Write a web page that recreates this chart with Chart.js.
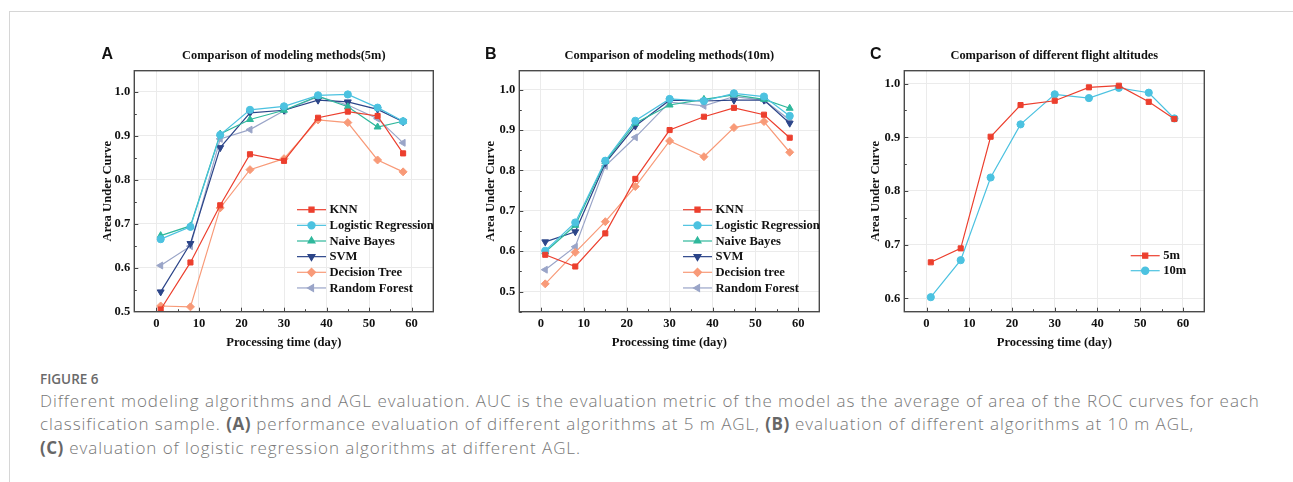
<!DOCTYPE html>
<html>
<head>
<meta charset="utf-8">
<script src="https://cdn.jsdelivr.net/npm/chart.js@4.4.1/dist/chart.umd.min.js"></script>
<style>
  html, body { margin: 0; padding: 0; background: #fff; }
  body { width: 1293px; height: 482px; position: relative; overflow: hidden; }
  #frame { position: absolute; left: 9px; top: 11px; right: -2px; bottom: -2px;
           border-top: 1px solid #d6d6d6; border-left: 1px solid #d6d6d6; }
  canvas { position: absolute; top: 40px; }
  #chartA { left: 90px; }
  #chartB { left: 470px; }
  #chartC { left: 860px; }
  .fig { position: absolute; left: 40px; top: 370px; font: 600 13.5px "Open Sans", sans-serif; color: #6a6a6a; }
  .cap { position: absolute; left: 40px; top: 389px; font: 300 17px/23.3px "Open Sans", sans-serif;
         letter-spacing: 0.95px; color: #777; white-space: nowrap; }
  .cap b { color: #666; font-weight: 700; letter-spacing: 0.5px; }
</style>
</head>
<body>
<div id="frame"></div>
<canvas id="chartA" width="360" height="320"></canvas>
<canvas id="chartB" width="360" height="320"></canvas>
<canvas id="chartC" width="360" height="320"></canvas>
<div class="fig">FIGURE 6</div>
<div class="cap">Different modeling algorithms and AGL evaluation. AUC is the evaluation metric of the model as the average of area of the ROC curves for each<br>classification sample. <b>(A)</b> performance evaluation of different algorithms at 5 m AGL, <b>(B)</b> evaluation of different algorithms at 10 m AGL,<br><b>(C)</b> evaluation of logistic regression algorithms at different AGL.</div>
<script>
// processing time (day) of each measurement
const days = [1, 8, 15, 22, 30, 38, 45, 52, 58];
const xTicks = [0, 10, 20, 30, 40, 50, 60];
const yTicksA = [0.5, 0.6, 0.7, 0.8, 0.9, 1.0];
const yTicksB = [0.5, 0.6, 0.7, 0.8, 0.9, 1.0];
const yTicksC = [0.6, 0.7, 0.8, 0.9, 1.0];

const namesA = ["KNN", "Logistic Regression", "Naive Bayes", "SVM", "Decision Tree", "Random Forest"];
const namesB = ["KNN", "Logistic Regression", "Naive Bayes", "SVM", "Decision tree", "Random Forest"];
const namesC = ["5m", "10m"];

// AUC at 5 m AGL
const knn5 = [0.505, 0.612, 0.742, 0.858, 0.843, 0.941, 0.955, 0.945, 0.860];
const lr5 = [0.665, 0.693, 0.902, 0.959, 0.967, 0.992, 0.994, 0.964, 0.933];
const nb5 = [0.673, 0.695, 0.904, 0.937, 0.958, 0.990, 0.966, 0.920, 0.933];
const svm5 = [0.545, 0.655, 0.873, 0.952, 0.958, 0.981, 0.977, 0.960, 0.932];
const dt5 = [0.513, 0.511, 0.736, 0.823, 0.848, 0.936, 0.930, 0.845, 0.818];
const rf5 = [0.605, 0.649, 0.893, 0.914, 0.957, 0.989, 0.970, 0.939, 0.884];

// AUC at 10 m AGL
const knn10 = [0.591, 0.562, 0.644, 0.779, 0.900, 0.933, 0.955, 0.938, 0.881];
const lr10 = [0.601, 0.671, 0.824, 0.923, 0.977, 0.972, 0.991, 0.983, 0.935];
const nb10 = [0.598, 0.664, 0.822, 0.917, 0.962, 0.976, 0.987, 0.976, 0.954];
const svm10 = [0.623, 0.648, 0.818, 0.910, 0.974, 0.972, 0.974, 0.974, 0.917];
const dt10 = [0.519, 0.597, 0.673, 0.760, 0.873, 0.834, 0.906, 0.921, 0.845];
const rf10 = [0.554, 0.611, 0.811, 0.882, 0.969, 0.960, 0.983, 0.974, 0.925];

// logistic regression, two flight altitudes
const alt5 = [0.667, 0.693, 0.901, 0.960, 0.968, 0.993, 0.996, 0.966, 0.934];
const alt10 = [0.602, 0.671, 0.825, 0.924, 0.980, 0.973, 0.992, 0.983, 0.935];

// marker look per method
const styles = [
  { color: "#ec3f2e", pointStyle: "rect", rotation: 0, radius: 3.6 },
  { color: "#4cc2e0", pointStyle: "circle", rotation: 0, radius: 3.6 },
  { color: "#2fb89c", pointStyle: "triangle", rotation: 0, radius: 4 },
  { color: "#2c4589", pointStyle: "triangle", rotation: 180, radius: 4 },
  { color: "#f89a78", pointStyle: "rectRot", rotation: 0, radius: 4 },
  { color: "#9aa5c8", pointStyle: "triangle", rotation: -90, radius: 4 },
];

const serif = "'Liberation Serif', 'Times New Roman', serif";
const ink = "#111";
const fontSize = 12.6;

function toPoints(vals) {
  return days.map((d, i) => ({ x: d, y: vals[i] }));
}

function dataset(label, vals, st) {
  return {
    label: label,
    data: toPoints(vals),
    borderColor: st.color,
    backgroundColor: st.color,
    pointBackgroundColor: st.color,
    pointBorderColor: st.color,
    borderWidth: 1.2,
    pointRadius: st.radius,
    pointBorderWidth: 1,
    pointStyle: st.pointStyle,
    pointRotation: st.rotation,
    tension: 0,
  };
}

// title, panel letter, frame, inward ticks and the in-plot legend
const decor = {
  id: "decor",
  beforeDatasetsDraw(chart, args, o) {
    const ctx = chart.ctx;
    const a = chart.chartArea;
    const xs = chart.scales.x, ys = chart.scales.y;
    ctx.save();
    ctx.strokeStyle = "#444";
    ctx.lineWidth = 1;
    ctx.beginPath();
    for (let v = 0; v <= 60; v += 5) {
      const px = Math.round(xs.getPixelForValue(v)) + 0.5;
      const len = v % 10 === 0 ? 4 : 2.5;
      ctx.moveTo(px, a.bottom);
      ctx.lineTo(px, a.bottom - len);
    }
    for (let v = o.yMinor; v <= 1.0001; v += 0.05) {
      const py = Math.round(ys.getPixelForValue(v)) + 0.5;
      const major = Math.abs(v * 10 - Math.round(v * 10)) < 0.01;
      ctx.moveTo(a.left, py);
      ctx.lineTo(a.left + (major ? 4 : 2.5), py);
    }
    ctx.stroke();
    ctx.restore();
  },
  afterDraw(chart, args, o) {
    const ctx = chart.ctx;
    const a = chart.chartArea;
    ctx.save();
    ctx.strokeStyle = "#4a4a4a";
    ctx.lineWidth = 1.4;
    ctx.strokeRect(a.left, a.top, a.right - a.left, a.bottom - a.top);

    ctx.fillStyle = ink;
    ctx.textBaseline = "middle";
    ctx.textAlign = "center";
    ctx.font = "bold 12.4px " + serif;
    ctx.fillText(o.title, (a.left + a.right) / 2, 15.5);
    ctx.textAlign = "left";
    ctx.font = "bold 16px 'Liberation Sans', Arial, sans-serif";
    ctx.fillText(o.letter, o.letterX, 15);

    ctx.font = "bold " + fontSize + "px " + serif;
    chart.data.datasets.forEach((ds, i) => {
      const y = o.legY + i * o.legStep;
      const x0 = o.legX;
      ctx.strokeStyle = ds.borderColor;
      ctx.fillStyle = ds.borderColor;
      ctx.lineWidth = 1.2;
      ctx.beginPath();
      ctx.moveTo(x0, y);
      ctx.lineTo(x0 + 29, y);
      ctx.stroke();
      Chart.helpers.drawPoint(ctx, { pointStyle: ds.pointStyle, rotation: ds.pointRotation,
        radius: ds.pointRadius, borderWidth: 1 }, x0 + 14.5, y);
      ctx.fillStyle = ink;
      ctx.fillText(ds.label, x0 + 32.5, y + 0.5);
    });
    ctx.restore();
  },
};

function makePanel(id, sets, p) {
  const tickFont = { family: serif, weight: "bold", size: fontSize };
  return new Chart(document.getElementById(id), {
    type: "line",
    data: { datasets: sets },
    plugins: [decor],
    options: {
      responsive: false,
      animation: false,
      devicePixelRatio: 1,
      layout: { padding: { left: 0, top: 30.7, right: p.padRight, bottom: 0 } },
      plugins: {
        legend: { display: false },
        tooltip: { enabled: false },
        decor: p.decor,
      },
      scales: {
        x: {
          type: "linear",
          min: p.xMin, max: p.xMax,
          afterBuildTicks: (s) => { s.ticks = xTicks.map((v) => ({ value: v })); },
          afterFit: (s) => { s.height = 48.3; },
          grid: { color: "#ebebeb", drawTicks: false },
          border: { display: false },
          ticks: { padding: 4, color: ink, font: tickFont },
          title: { display: true, text: "Processing time (day)", color: ink,
                   padding: { top: 0, bottom: 9.5 }, font: tickFont },
        },
        y: {
          type: "linear",
          min: p.yMin, max: p.yMax,
          afterBuildTicks: (s) => { s.ticks = p.yTicks.map((v) => ({ value: v })); },
          afterFit: (s) => { s.width = p.yWidth; },
          grid: { color: "#ebebeb", drawTicks: false },
          border: { display: false },
          ticks: { padding: 4, color: ink, font: tickFont,
                   callback: (v) => Number(v).toFixed(1) },
          title: { display: true, text: "Area Under Curve", color: ink,
                   padding: { top: p.yTitlePad, bottom: 0 }, font: tickFont },
        },
      },
    },
  });
}

makePanel("chartA", [
  dataset(namesA[0], knn5, styles[0]),
  dataset(namesA[1], lr5, styles[1]),
  dataset(namesA[2], nb5, styles[2]),
  dataset(namesA[3], svm5, styles[3]),
  dataset(namesA[4], dt5, styles[4]),
  dataset(namesA[5], rf5, styles[5]),
], {
  padRight: 16.7, yWidth: 44.3, yTitlePad: 10.5,
  xMin: -5.2, xMax: 65.1, yMin: 0.5, yMax: 1.048, yTicks: yTicksA,
  decor: { title: "Comparison of modeling methods(5m)", letter: "A", letterX: 11.5,
           yMinor: 0.55, legX: 207, legY: 169.7, legStep: 15.65 },
});

makePanel("chartB", [
  dataset(namesB[0], knn10, styles[0]),
  dataset(namesB[1], lr10, styles[1]),
  dataset(namesB[2], nb10, styles[2]),
  dataset(namesB[3], svm10, styles[3]),
  dataset(namesB[4], dt10, styles[4]),
  dataset(namesB[5], rf10, styles[5]),
], {
  padRight: 10.7, yWidth: 49.3, yTitlePad: 13.2,
  xMin: -5.05, xMax: 64.9, yMin: 0.45, yMax: 1.047, yTicks: yTicksB,
  decor: { title: "Comparison of modeling methods(10m)", letter: "B", letterX: 15,
           yMinor: 0.45, legX: 213, legY: 169.7, legStep: 15.65 },
});

makePanel("chartC", [
  dataset(namesC[0], alt5, styles[0]),
  dataset(namesC[1], alt10, styles[1]),
], {
  padRight: 15.7, yWidth: 44.3, yTitlePad: 8.5,
  xMin: -5.2, xMax: 65, yMin: 0.575, yMax: 1.024, yTicks: yTicksC,
  decor: { title: "Comparison of different flight altitudes", letter: "C", letterX: 10,
           yMinor: 0.6, legX: 270.7, legY: 215.7, legStep: 15 },
});
</script>
</body>
</html>
